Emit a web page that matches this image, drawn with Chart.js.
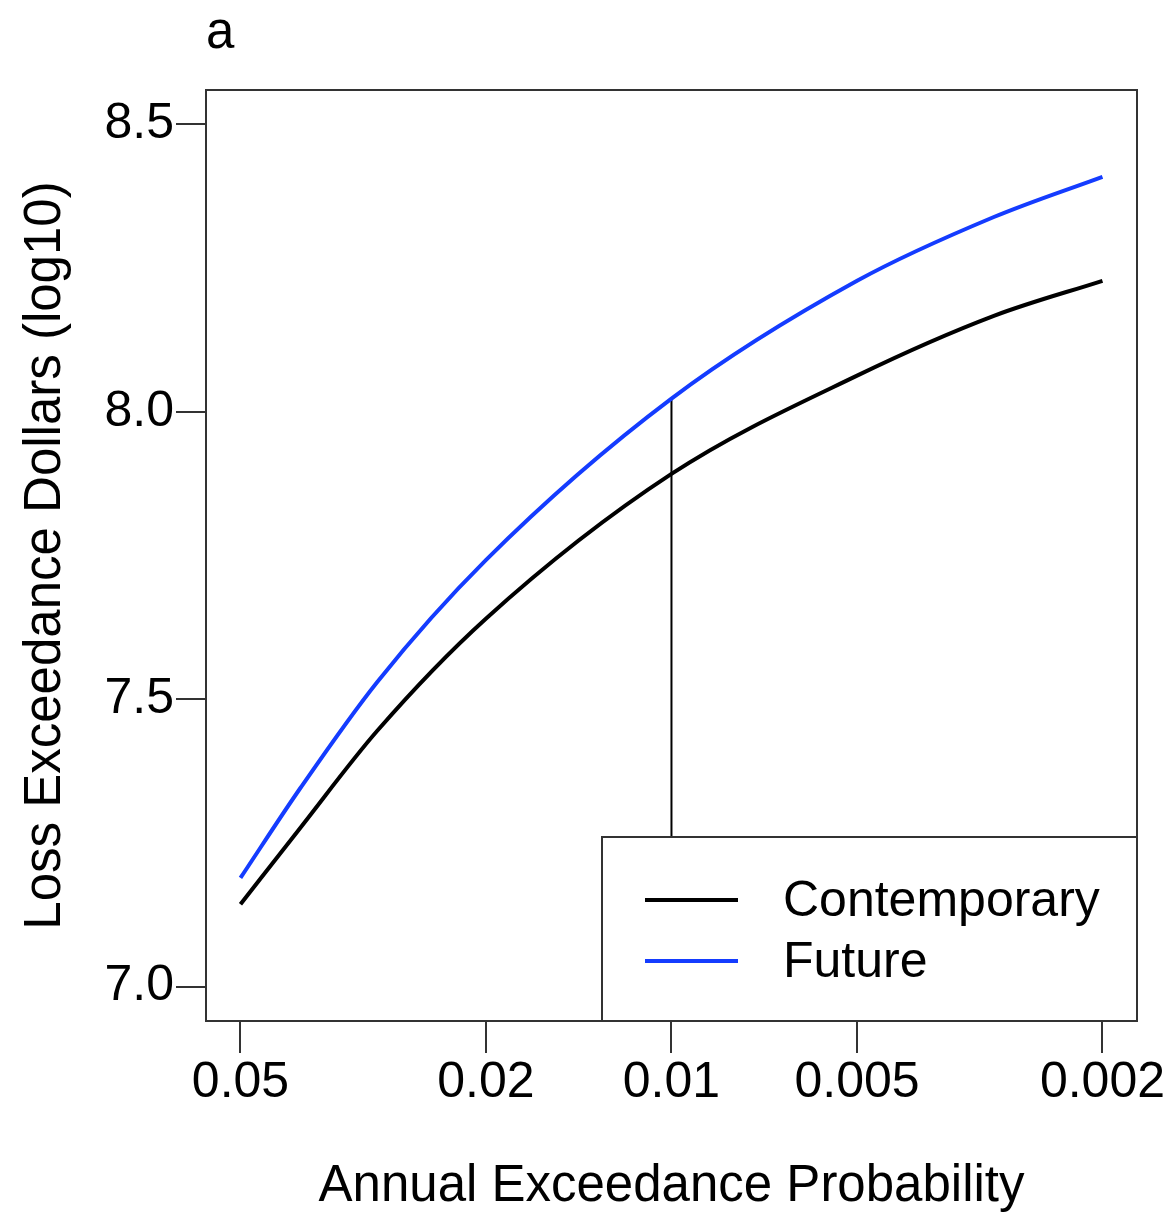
<!DOCTYPE html>
<html>
<head>
<meta charset="utf-8">
<title>Loss exceedance</title>
<script src="https://cdn.jsdelivr.net/npm/chart.js@4.4.1/dist/chart.umd.min.js"></script>
<style>
  body { margin: 0; background: #fff; }
  #wrap { width: 1176px; height: 1216px; }
</style>
</head>
<body>
<div id="wrap"><canvas id="lossChart" width="1176" height="1216"></canvas></div>
<script>
// annual exceedance probabilities (x axis, log, reversed)
const probs = [0.05, 0.04, 0.03, 0.02, 0.01, 0.005, 0.003, 0.002];
// loss exceedance dollars, log10
const contemporary = [7.143, 7.276, 7.445, 7.640, 7.892, 8.063, 8.167, 8.228];
const future = [7.189, 7.345, 7.530, 7.742, 8.023, 8.228, 8.339, 8.409];

// marker line at the 1% event
const markerProb = 0.01;
const markerTop = 8.023;

// tick labels
const xTicks = [0.05, 0.02, 0.01, 0.005, 0.002];
const xTickLabels = ['0.05', '0.02', '0.01', '0.005', '0.002'];
const yTicks = [7.0, 7.5, 8.0, 8.5];
const yTickLabels = ['7.0', '7.5', '8.0', '8.5'];

const panelLabel = 'a';
const FONT = '"Liberation Sans", Arial, Helvetica, sans-serif';
const BLUE = 'rgb(20, 60, 255)';

function toPoints(xs, ys){
    return xs.map((x, i) => ({x: x, y: ys[i]}));
}

// box round the plot, the legend and the panel letter (R style)
const boxPlugin = {
    id: 'rbox',
    afterDatasetsDraw(chart){
        const ctx = chart.ctx;
        const a = chart.chartArea;
        ctx.save();
        // legend box in the lower right corner
        const lx = 602, ly = 837;
        ctx.fillStyle = '#fff';
        ctx.fillRect(lx, ly, a.right - lx, a.bottom - ly);
        ctx.strokeStyle = '#333';
        ctx.lineWidth = 2;
        ctx.strokeRect(lx, ly, a.right - lx, a.bottom - ly);

        const items = chart.data.datasets.filter(d => d.label);
        ctx.font = '50px ' + FONT;
        ctx.textBaseline = 'middle';
        ctx.textAlign = 'left';
        items.forEach((d, i) => {
            const y = 900 + i * 61;
            ctx.strokeStyle = d.borderColor;
            ctx.lineWidth = 4;
            ctx.beginPath();
            ctx.moveTo(645, y);
            ctx.lineTo(738, y);
            ctx.stroke();
            ctx.fillStyle = '#000';
            ctx.fillText(d.label, 783, y + 2);
        });

        // plot frame
        ctx.strokeStyle = '#333';
        ctx.lineWidth = 2;
        ctx.strokeRect(a.left, a.top, a.right - a.left, a.bottom - a.top);

        // panel letter
        ctx.fillStyle = '#000';
        ctx.font = '51px ' + FONT;
        ctx.textBaseline = 'alphabetic';
        ctx.fillText(panelLabel, a.left, 48);
        ctx.restore();
    }
};

const ctx = document.getElementById('lossChart').getContext('2d');
const lossChart = new Chart(ctx, {
    type: 'scatter',
    data: {
        datasets: [{
            label: 'Contemporary',
            data: toPoints(probs, contemporary),
            borderColor: '#000',
            borderWidth: 4,
            showLine: true,
            pointRadius: 0,
            cubicInterpolationMode: 'monotone'
        }, {
            label: 'Future',
            data: toPoints(probs, future),
            borderColor: BLUE,
            borderWidth: 4,
            showLine: true,
            pointRadius: 0,
            cubicInterpolationMode: 'monotone'
        }, {
            label: '',
            data: [{x: markerProb, y: markerTop}, {x: markerProb, y: 6.94}],
            borderColor: '#000',
            borderWidth: 2,
            showLine: true,
            pointRadius: 0
        }]
    },
    options: {
        responsive: false,
        animation: false,
        layout: { padding: { top: 90, right: 39, left: 0, bottom: 0 } },
        plugins: {
            legend: { display: false },
            tooltip: { enabled: false }
        },
        scales: {
            x: {
                type: 'logarithmic',
                reverse: true,
                min: 0.001758,
                max: 0.05687,
                afterBuildTicks: s => { s.ticks = xTicks.map(v => ({value: v})); },
                afterFit: s => { s.height = 195; },
                ticks: {
                    autoSkip: false,
                    maxRotation: 0,
                    padding: 0,
                    color: '#000',
                    font: { family: FONT, size: 50 },
                    callback: (v) => xTickLabels[xTicks.indexOf(v)]
                },
                grid: { drawOnChartArea: false, tickLength: 32, tickColor: '#333', lineWidth: 2 },
                border: { display: false },
                title: {
                    display: true,
                    text: 'Annual Exceedance Probability',
                    color: '#000',
                    font: { family: FONT, size: 51, lineHeight: 1.0 },
                    padding: { top: 0, bottom: 4 }
                }
            },
            y: {
                type: 'linear',
                min: 6.94,
                max: 8.56,
                afterBuildTicks: s => { s.ticks = yTicks.map(v => ({value: v})); },
                afterFit: s => { s.width = 206; },
                ticks: {
                    padding: 2,
                    color: '#000',
                    font: { family: FONT, size: 50 },
                    callback: (v) => yTickLabels[yTicks.indexOf(v)]
                },
                grid: { drawOnChartArea: false, tickLength: 30, tickColor: '#333', lineWidth: 2 },
                border: { display: false },
                title: {
                    display: true,
                    text: 'Loss Exceedance Dollars (log10)',
                    color: '#000',
                    font: { family: FONT, size: 51, lineHeight: 1.2 },
                    padding: { top: 15, bottom: 0 }
                }
            }
        }
    },
    plugins: [boxPlugin]
});
</script>
</body>
</html>
